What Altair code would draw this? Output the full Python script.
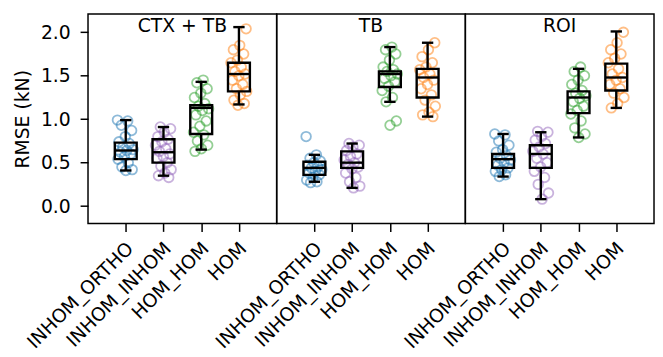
import altair as alt
import pandas as pd

panels = ["CTX + TB", "TB", "ROI"]
categories = ["INHOM_ORTHO", "INHOM_INHOM", "HOM_HOM", "HOM"]
colors = ["#1f77b4", "#9467bd", "#2ca02c", "#ff7f0e"]

# box statistics per panel, per category: [whisker low, q1, median, q3, whisker high]
ctx_tb_box = [[0.41, 0.54, 0.64, 0.73, 0.99],
              [0.35, 0.50, 0.62, 0.77, 0.91],
              [0.65, 0.83, 1.13, 1.16, 1.43],
              [1.17, 1.32, 1.52, 1.65, 2.06]]
tb_box = [[0.28, 0.36, 0.44, 0.51, 0.59],
          [0.21, 0.44, 0.50, 0.63, 0.72],
          [1.20, 1.37, 1.52, 1.55, 1.83],
          [1.03, 1.25, 1.48, 1.58, 1.88]]
roi_box = [[0.34, 0.44, 0.54, 0.60, 0.83],
           [0.08, 0.44, 0.60, 0.70, 0.85],
           [0.79, 1.07, 1.25, 1.32, 1.58],
           [1.13, 1.33, 1.48, 1.64, 2.01]]

# individual RMSE values (kN)
ctx_tb_points = [
    [0.99, 0.98, 0.93, 0.87, 0.80, 0.74, 0.72, 0.68, 0.65, 0.64, 0.62, 0.60, 0.57, 0.54, 0.50, 0.45, 0.42, 0.41],
    [0.91, 0.89, 0.85, 0.80, 0.77, 0.74, 0.70, 0.66, 0.63, 0.60, 0.57, 0.55, 0.50, 0.46, 0.42, 0.38, 0.35, 0.33],
    [1.45, 1.42, 1.35, 1.30, 1.25, 1.18, 1.15, 1.12, 1.10, 1.05, 0.98, 0.92, 0.85, 0.82, 0.75, 0.70, 0.66, 0.63],
    [2.04, 1.85, 1.80, 1.75, 1.68, 1.65, 1.60, 1.55, 1.52, 1.50, 1.45, 1.40, 1.35, 1.32, 1.28, 1.22, 1.18, 1.16],
]
tb_points = [
    [0.80, 0.59, 0.55, 0.52, 0.50, 0.47, 0.45, 0.44, 0.42, 0.40, 0.38, 0.36, 0.33, 0.30, 0.28, 0.27],
    [0.72, 0.70, 0.68, 0.64, 0.60, 0.57, 0.53, 0.50, 0.48, 0.45, 0.43, 0.38, 0.33, 0.28, 0.23, 0.21],
    [1.83, 1.80, 1.75, 1.68, 1.60, 1.57, 1.55, 1.52, 1.50, 1.47, 1.43, 1.38, 1.33, 1.25, 1.20, 0.98, 0.93],
    [1.88, 1.80, 1.72, 1.65, 1.60, 1.57, 1.52, 1.48, 1.45, 1.40, 1.35, 1.28, 1.22, 1.15, 1.08, 1.05, 1.03],
]
roi_points = [
    [0.83, 0.82, 0.75, 0.70, 0.65, 0.62, 0.58, 0.55, 0.53, 0.50, 0.47, 0.44, 0.42, 0.40, 0.36, 0.34],
    [0.86, 0.85, 0.80, 0.76, 0.72, 0.68, 0.63, 0.60, 0.55, 0.50, 0.45, 0.40, 0.33, 0.25, 0.15, 0.08],
    [1.60, 1.55, 1.50, 1.45, 1.40, 1.33, 1.30, 1.27, 1.24, 1.20, 1.15, 1.10, 1.06, 0.98, 0.90, 0.83, 0.79],
    [2.00, 1.88, 1.80, 1.75, 1.70, 1.65, 1.58, 1.52, 1.48, 1.45, 1.40, 1.35, 1.30, 1.25, 1.18, 1.13],
]

y_ticks = [0.0, 0.5, 1.0, 1.5, 2.0]
FONT = "DejaVu Sans"
FS = 19
W, H = 191, 212
BOX_HALF = 0.29
CAP_HALF = 0.15
JIT = 0.44
LW = 2.4

label_expr = "[" + ",".join("'%s'" % c for c in categories) + "][datum.value]"
xscale = alt.Scale(domain=[-1, 4], nice=False, zero=False)
yscale = alt.Scale(domain=[-0.2, 2.21], nice=False, zero=False)


def make_panel(name, box, pts, first):
    brows = []
    for i, (lo, q1, md, q3, hi) in enumerate(box):
        brows.append(dict(cat=categories[i], xl=i - BOX_HALF, xr=i + BOX_HALF,
                          cl=i - CAP_HALF, cr=i + CAP_HALF, xc=i,
                          lo=lo, q1=q1, med=md, q3=q3, hi=hi))
    bdf = pd.DataFrame(brows)
    prows = []
    for i, vals in enumerate(pts):
        for k, v in enumerate(vals):
            j = ((k * 0.618034 + 0.31 * i) % 1.0 - 0.5) * JIT
            prows.append(dict(cat=categories[i], x=i + j, v=v))
    pdf = pd.DataFrame(prows)

    xaxis = alt.Axis(values=[0, 1, 2, 3], labelExpr=label_expr, labelAngle=-45,
                     labelAlign="right", labelBaseline="middle", labelFontSize=FS,
                     labelFont=FONT, labelColor="black", tickColor="black",
                     tickWidth=1.5, tickSize=8, labelPadding=14, labelOffset=4,
                     labelOverlap=False, labelBound=False, domain=False, grid=False,
                     title=None)
    if first:
        yaxis = alt.Axis(values=y_ticks, format=".1f", labelFontSize=FS, labelFont=FONT,
                         labelColor="black", tickColor="black", tickWidth=1.5, tickSize=8,
                         labelPadding=10, domain=False, grid=False, title="RMSE (kN)",
                         titleFont=FONT, titleFontSize=FS, titleFontWeight="normal",
                         titleColor="black", titlePadding=8)
    else:
        yaxis = None

    pts_layer = alt.Chart(pdf).mark_point(filled=False, size=95, strokeWidth=1.8,
                                           opacity=0.5).encode(
        x=alt.X("x:Q", scale=xscale, axis=xaxis),
        y=alt.Y("v:Q", scale=yscale, axis=yaxis),
        color=alt.Color("cat:N", scale=alt.Scale(domain=categories, range=colors), legend=None),
    )
    base = alt.Chart(bdf)
    wl = base.mark_rule(color="black", strokeWidth=LW).encode(
        x=alt.X("xc:Q", scale=xscale), y=alt.Y("lo:Q", scale=yscale), y2="q1:Q")
    wh = base.mark_rule(color="black", strokeWidth=LW).encode(
        x=alt.X("xc:Q", scale=xscale), y=alt.Y("q3:Q", scale=yscale), y2="hi:Q")
    cap_lo = base.mark_rule(color="black", strokeWidth=LW).encode(
        x=alt.X("cl:Q", scale=xscale), x2="cr:Q", y=alt.Y("lo:Q", scale=yscale))
    cap_hi = base.mark_rule(color="black", strokeWidth=LW).encode(
        x=alt.X("cl:Q", scale=xscale), x2="cr:Q", y=alt.Y("hi:Q", scale=yscale))
    rect = base.mark_rect(fillOpacity=0, stroke="black", strokeWidth=LW).encode(
        x=alt.X("xl:Q", scale=xscale), x2="xr:Q",
        y=alt.Y("q1:Q", scale=yscale), y2="q3:Q")
    med = base.mark_rule(color="black", strokeWidth=LW).encode(
        x=alt.X("xl:Q", scale=xscale), x2="xr:Q", y=alt.Y("med:Q", scale=yscale))
    title = alt.Chart(pd.DataFrame({"t": [name], "x": [1.5]})).mark_text(
        font=FONT, fontSize=FS, color="black", baseline="alphabetic", align="center"
    ).encode(x=alt.X("x:Q", scale=xscale), y=alt.value(18), text="t:N")

    return alt.layer(pts_layer, wl, wh, cap_lo, cap_hi, rect, med, title).properties(
        width=W, height=H)


chart = alt.hconcat(
    make_panel(panels[0], ctx_tb_box, ctx_tb_points, True),
    make_panel(panels[1], tb_box, tb_points, False),
    make_panel(panels[2], roi_box, roi_points, False),
    spacing=0, bounds="flush",
).configure_view(stroke="black", strokeWidth=1.5).properties(
    padding={"left": 5, "top": 3, "right": 0, "bottom": 0}
)

chart.save("out.html", embed_options={"renderer": "svg", "actions": False})
